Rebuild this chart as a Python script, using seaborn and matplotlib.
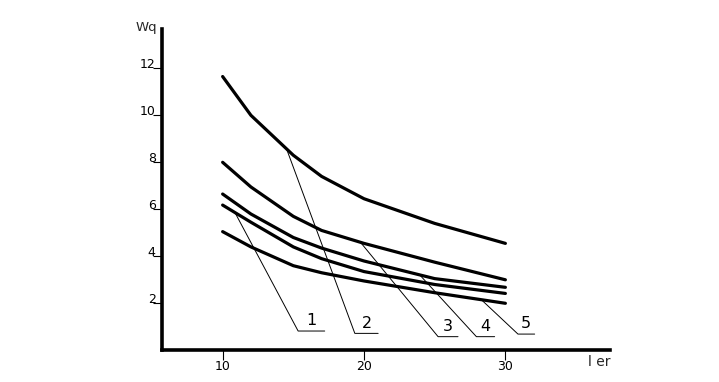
import numpy as np
import pandas as pd
import matplotlib
matplotlib.use("Agg")
import matplotlib.pyplot as plt
import seaborn as sns

# ---- data ----
x_vals = [10, 12, 15, 17, 20, 25, 30]
curve_A = [11.65, 10.0, 8.3, 7.4, 6.45, 5.4, 4.55]   # label 2
curve_B = [8.0, 6.95, 5.7, 5.1, 4.55, 3.75, 3.0]     # label 3
curve_C = [6.65, 5.8, 4.8, 4.35, 3.8, 3.05, 2.68]    # label 4
curve_D = [6.18, 5.45, 4.4, 3.9, 3.35, 2.8, 2.42]    # label 1
curve_E = [5.05, 4.4, 3.6, 3.3, 2.95, 2.45, 2.0]     # label 5
curve_names = ["A", "B", "C", "D", "E"]

x_ticks = [10, 20, 30]
x_tick_labels = ["10", "20", "30"]
y_ticks = [2, 4, 6, 8, 10, 12]
y_tick_labels = ["2", "4", "6", "8", "10", "12"]

# leader annotations: label text, curve it points to, x on curve
leader_labels = ["1", "2", "3", "4", "5"]
leader_curves = ["D", "A", "B", "C", "E"]
leader_x = [10.87, 14.52, 19.75, 23.94, 28.3]

sns.set_theme(style="white")
plt.rcParams['font.family'] = ['DejaVu Sans']

curves = {"A": curve_A, "B": curve_B, "C": curve_C, "D": curve_D, "E": curve_E}
df = pd.DataFrame([(x, curves[n][i], n) for n in curve_names for i, x in enumerate(x_vals)],
                  columns=["x", "y", "curve"])

fig = plt.figure(figsize=(7.19, 3.82), dpi=100)
ax = fig.add_axes([0.2253, 0.0830, 0.8484 - 0.2253, 0.9233 - 0.0830])

sns.lineplot(data=df, x="x", y="y", hue="curve", palette=["black"] * 5,
             linewidth=2.3, legend=False, ax=ax, sort=False)

ax.set_xlim(5.71, 37.4)
ax.set_ylim(0, 13.66)

for s in ["top", "right"]:
    ax.spines[s].set_visible(False)
for s in ["left", "bottom"]:
    ax.spines[s].set_linewidth(2.6)
    ax.spines[s].set_color("black")

ax.set_xticks(x_ticks)
ax.set_xticklabels(x_tick_labels)
ax.set_yticks(y_ticks)
ax.set_yticklabels(y_tick_labels)
ax.tick_params(axis="x", length=7, width=0.8, direction="out", pad=0,
               labelsize=9, colors="black", bottom=True)
ax.tick_params(axis="y", length=6.5, width=0.8, direction="out", pad=-2,
               labelsize=9, colors="black", left=True)
for lbl in ax.get_yticklabels():
    lbl.set_verticalalignment("baseline")
ax.set_xlabel("")
ax.set_ylabel("")
ax.grid(False)

# leader lines with labels
elbows = [(15.34, 0.82, 17.22), (19.35, 0.72, 21.0), (25.24, 0.58, 26.65),
          (27.95, 0.58, 29.24), (30.89, 0.69, 32.07)]
for lab, cn, lx, (ex, ey, hx) in zip(leader_labels, leader_curves, leader_x, elbows):
    ly = np.interp(lx, x_vals, curves[cn])
    ax.plot([lx, ex, hx], [ly, ey, ey], color="black", linewidth=0.7)
    ax.text((ex + hx) / 2, ey + 0.12, lab, ha="center", va="bottom",
            fontsize=11.5, color="black")

fig.text(146 / 719, 1 - 28 / 382, "Wq", ha="center", va="center", fontsize=9.5)
fig.text(599 / 719, 1 - 362 / 382, "l er", ha="center", va="center", fontsize=10)

fig.savefig("out.png", dpi=100)
